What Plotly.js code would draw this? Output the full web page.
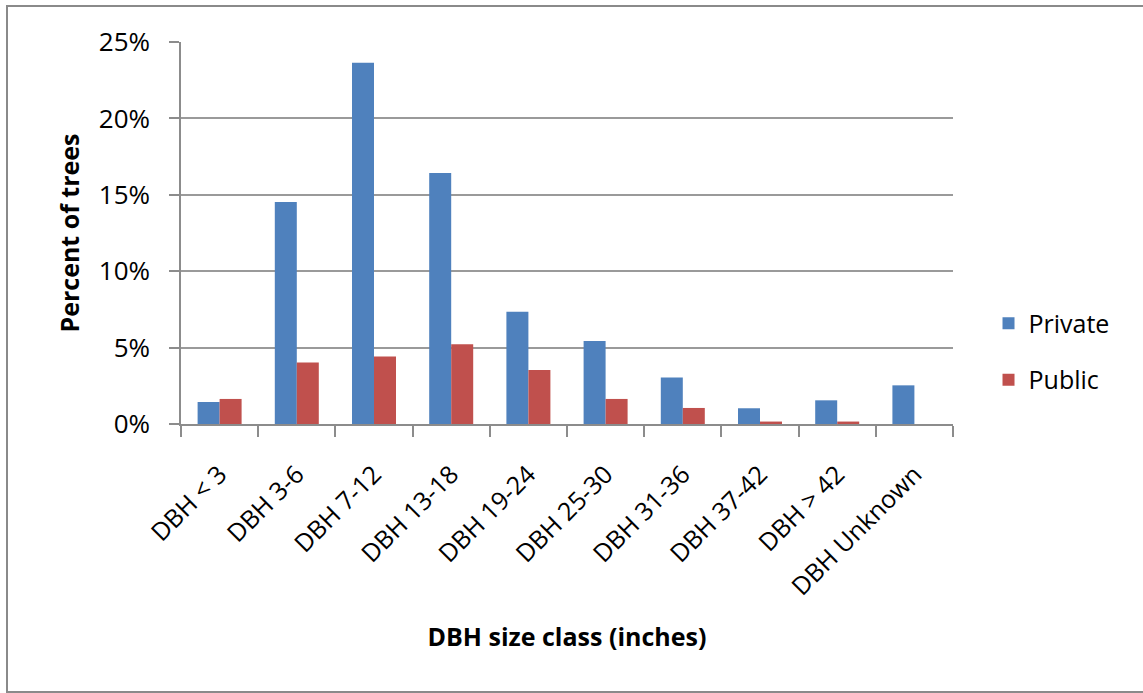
<!DOCTYPE html>
<html>
<head>
<meta charset="utf-8">
<script src="https://cdn.plot.ly/plotly-3.0.1.min.js"></script>
<style>
  html, body { margin: 0; padding: 0; background: #ffffff; }
  #wrap { position: absolute; left: 0; top: 0; width: 1143px; height: 693px; overflow: hidden; }
  #frame { position: absolute; left: 6px; top: 5px; width: 1150px; height: 684px;
           border-left: 2px solid #8a8a8a; border-top: 2px solid #8a8a8a; border-bottom: 2px solid #8a8a8a; pointer-events: none; }
  #chart { position: absolute; left: 0; top: 0; width: 1143px; height: 693px; }
</style>
</head>
<body>
<div id="wrap">
  <div id="chart"></div>
  <div id="frame"></div>
</div>
<script>
const categories = ["DBH < 3", "DBH 3-6", "DBH 7-12", "DBH 13-18", "DBH 19-24",
                    "DBH 25-30", "DBH 31-36", "DBH 37-42", "DBH > 42", "DBH Unknown"];
const privateValues = [1.44, 14.53, 23.64, 16.43, 7.34, 5.44, 3.04, 1.03, 1.55, 2.53];
const publicValues  = [1.64, 4.02, 4.42, 5.22, 3.54, 1.64, 1.05, 0.16, 0.16, 0];
const yTickValues = [0, 5, 10, 15, 20, 25];
const yTickLabels = ["0%", "5%", "10%", "15%", "20%", "25%"];

const FONT = "Open Sans, Lato, sans-serif";

const traces = [
  { type: "bar", name: "Private", x: categories, y: privateValues, legendgroup: "a",
    marker: { color: "#4F81BD", line: { width: 0 } }, hoverinfo: "x+y" },
  { type: "bar", name: "Public", x: categories, y: publicValues, legendgroup: "b",
    marker: { color: "#C0504D", line: { width: 0 } }, hoverinfo: "x+y" }
];

const layout = {
  width: 1143, height: 693,
  margin: { l: 181, r: 190, t: 42, b: 269, autoexpand: false },
  paper_bgcolor: "rgba(0,0,0,0)",
  plot_bgcolor: "#ffffff",
  font: { family: FONT, size: 24, color: "#000000" },
  barmode: "group",
  bargap: 0.43,
  bargroupgap: 0,
  showlegend: true,
  legend: {
    x: 1.046, xanchor: "left", y: 0.19, yanchor: "middle",
    font: { family: FONT, size: 25, color: "#000000" },
    traceorder: "grouped", tracegroupgap: 21,
    itemwidth: 30, bgcolor: "rgba(0,0,0,0)"
  },
  xaxis: {
    type: "category",
    tickangle: -45,
    tickson: "boundaries",
    ticks: "outside", ticklen: 11, tickcolor: "#8c8c8c", tickwidth: 1.5,
    ticklabelstandoff: 24,
    showline: true, linecolor: "#8c8c8c", linewidth: 1.5,
    showgrid: false, zeroline: false,
    tickfont: { family: FONT, size: 25, color: "#000000" },
    automargin: false,
    title: { text: "DBH size class (inches)", font: { family: FONT, size: 25, color: "#000000", weight: "bold" }, standoff: 28 }
  },
  yaxis: {
    range: [0, 25],
    tickvals: yTickValues, ticktext: yTickLabels,
    ticks: "outside", ticklen: 10, tickcolor: "#8c8c8c", tickwidth: 1.5,
    ticklabelstandoff: 14,
    showline: true, linecolor: "#8c8c8c", linewidth: 1.5,
    showgrid: true, gridcolor: "#9a9a9a", gridwidth: 1.5,
    zeroline: false,
    tickfont: { family: FONT, size: 26, color: "#000000" },
    automargin: false,
    title: { text: "Percent of trees", font: { family: FONT, size: 25, color: "#000000", weight: "bold" }, standoff: 12 }
  }
};

Plotly.newPlot("chart", traces, layout, { displayModeBar: false });
</script>
</body>
</html>
